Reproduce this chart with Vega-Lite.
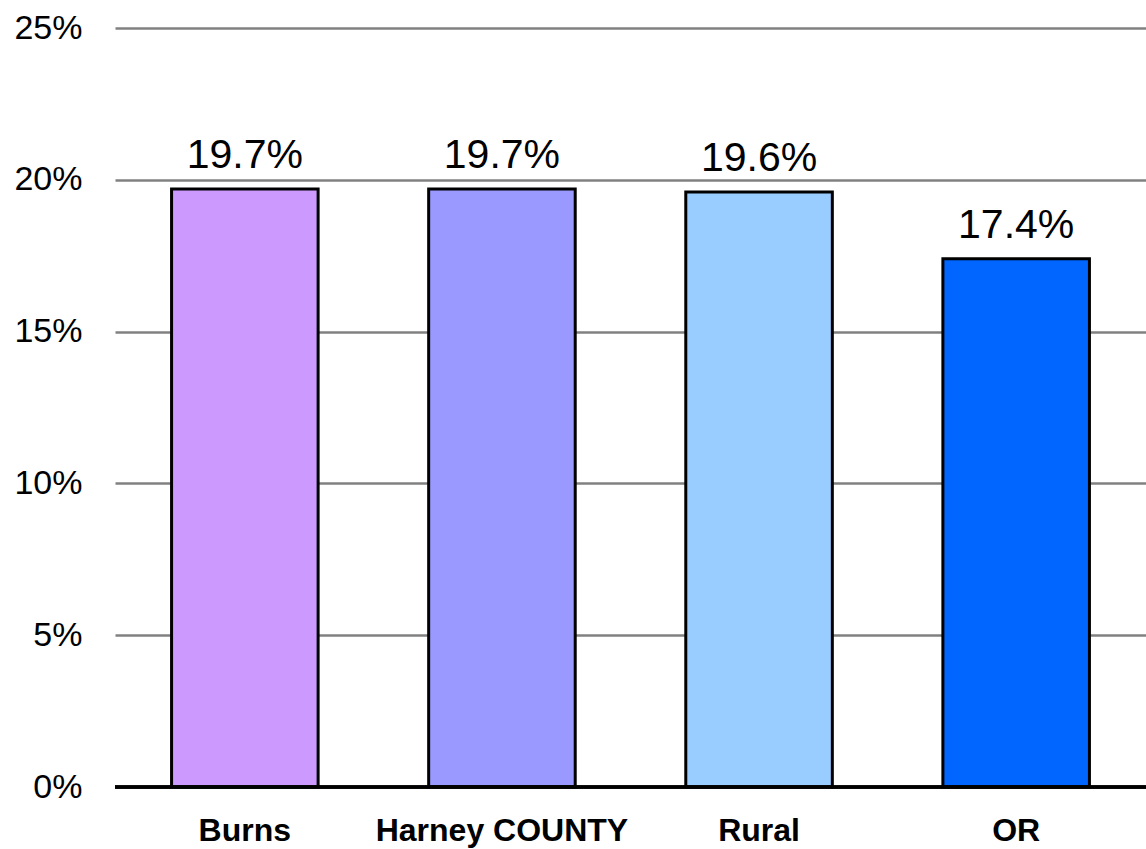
{
  "$schema": "https://vega.github.io/schema/vega-lite/v6.json",
  "width": 1031,
  "height": 759,
  "autosize": {"type": "none"},
  "padding": {"left": 115, "top": 28, "right": 0, "bottom": 62},
  "background": "white",
  "config": {"view": {"stroke": null}, "font": "Liberation Sans"},
  "data": {"values": [
    {"area": "Burns", "value": 19.7, "label": "19.7%"},
    {"area": "Harney COUNTY", "value": 19.7, "label": "19.7%"},
    {"area": "Rural", "value": 19.6, "label": "19.6%"},
    {"area": "OR", "value": 17.4, "label": "17.4%"}
  ]},
  "encoding": {
    "x": {
      "field": "area", "type": "nominal", "sort": null,
      "scale": {"paddingInner": 0.43, "paddingOuter": 0.22},
      "axis": {"title": null, "labelAngle": 0, "labelLimit": 0, "labelFont": "Liberation Sans", "labelFontSize": 32, "labelFontWeight": "bold", "labelColor": "black", "labelPadding": 28, "ticks": false, "domain": false}
    }
  },
  "layer": [
    {
      "mark": {"type": "bar", "stroke": "black", "strokeWidth": 3},
      "encoding": {
        "y": {
          "field": "value", "type": "quantitative",
          "scale": {"domain": [0, 25], "nice": false},
          "axis": {"title": null, "values": [0, 5, 10, 15, 20, 25], "labelExpr": "datum.value + '%'", "labelFont": "Liberation Sans", "labelFontSize": 34, "labelColor": "black", "labelPadding": 33, "ticks": false, "domain": false, "grid": true, "gridColor": "#808080", "gridWidth": 2.5}
        },
        "color": {
          "field": "area", "type": "nominal", "sort": null,
          "scale": {"domain": ["Burns", "Harney COUNTY", "Rural", "OR"], "range": ["#CC99FF", "#9999FF", "#99CCFF", "#0066FF"]},
          "legend": null
        }
      }
    },
    {
      "mark": {"type": "rule", "color": "black", "strokeWidth": 3},
      "encoding": {"y": {"datum": 0, "type": "quantitative"}, "x": null}
    },
    {
      "mark": {"type": "text", "font": "Liberation Sans", "fontSize": 41, "baseline": "alphabetic", "dy": -21, "color": "black"},
      "encoding": {
        "y": {"field": "value", "type": "quantitative"},
        "text": {"field": "label"}
      }
    }
  ]
}
